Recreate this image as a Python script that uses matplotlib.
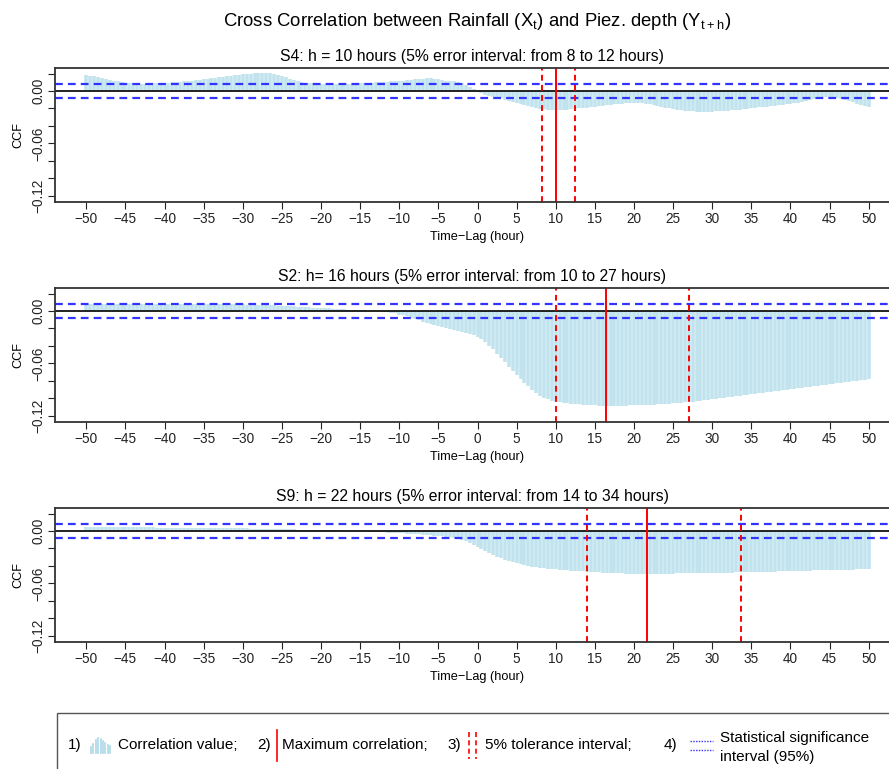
"""
Cross correlation between rainfall and piezometric depth, three stations
"""
import numpy as np
import matplotlib.pyplot as plt
from matplotlib.lines import Line2D
from matplotlib.patches import Rectangle

plt.rcParams['font.family'] = ['Liberation Sans', 'DejaVu Sans']

# lag axis (hours), half-hour steps
lags = np.arange(-50, 50.5, 0.5)

# CCF values, in units of 1e-3
s4_ccf = [
    18, 17.6, 17, 16, 15, 14, 13, 12, 11, 10.2,
    9.5, 9.1, 8.8, 8.6, 8.5, 8.5, 8.6, 8.7, 8.9, 9.0,
    9.2, 9.5, 9.8, 10.1, 10.5, 11, 11.5, 12, 12.5, 13,
    13.5, 14, 14.5, 15.2, 16, 16.5, 17, 17.5, 18, 18.5,
    19, 19.5, 20, 20.3, 20.5, 20.6, 20.5, 20.1, 19.5, 18.4,
    17, 15.5, 14, 12.5, 11, 10.2, 9.5, 9.1, 8.8, 8.4,
    8, 7.7, 7.5, 7.5, 7.5, 7.7, 8, 8.2, 8.5, 8.6,
    8.8, 9, 9.2, 9.5, 9.8, 10.1, 10.5, 10.8, 11, 11.2,
    11.5, 12, 12.5, 13, 13.5, 13.9, 14.2, 14.4, 14.5, 14.2,
    13.5, 12.8, 12, 11.5, 11, 10, 9, 7, 5, 2,
    -1, -2.5, -4, -5.3, -6.5, -7.5, -8.5, -9.8, -11, -12.3,
    -13.5, -14.8, -16, -17.3, -18.5, -19.6, -20.5, -21, -21.5, -21.7,
    -21.8, -21.8, -21.7, -21.4, -21, -20.5, -20, -19.5, -19, -18.5,
    -18, -17.5, -17, -16.4, -15.8, -15.4, -15, -14.5, -14, -13.7,
    -13.5, -13.6, -13.8, -14.3, -15, -16, -17, -18, -19, -19.8,
    -20.5, -21.3, -22, -22.5, -23, -23.3, -23.6, -23.7, -23.8, -23.7,
    -23.6, -23.4, -23.2, -22.9, -22.6, -22.2, -21.8, -21.3, -20.8, -20.2,
    -19.6, -19.1, -18.6, -18.2, -17.8, -17.4, -17, -16.5, -16, -15.4,
    -14.8, -14, -13.2, -12.4, -11.5, -10.5, -9.5, -8.5, -7.5, -6.9,
    -6.5, -6.8, -7.5, -8.7, -10, -11.5, -13, -14.5, -16, -17.4,
    -18.7,
]

s2_ccf = [
    8.5, 8.5, 8.4, 8.4, 8.4, 8.3, 8.3, 8.3, 8.2, 8.2,
    8.2, 8.2, 8.1, 8.1, 8.1, 8.1, 8.0, 8.0, 8.0, 8.0,
    8.0, 8.0, 7.9, 7.9, 7.9, 7.9, 7.8, 7.8, 7.8, 7.8,
    7.8, 7.7, 7.7, 7.7, 7.6, 7.6, 7.6, 7.5, 7.5, 7.5,
    7.5, 7.4, 7.3, 7.2, 7.1, 7.0, 6.8, 6.6, 6.4, 6.2,
    6.0, 5.8, 5.5, 5.2, 5.0, 4.7, 4.5, 4.2, 4.0, 3.7,
    3.5, 3.2, 3.0, 2.7, 2.5, 2.2, 2.0, 1.7, 1.5, 1.2,
    1.0, 0.7, 0.5, 0.2, 0.0, -0.5, -1.0, -1.5, -2.0, -2.8,
    -4.0, -5.0, -6.2, -7.5, -9.0, -10.5, -12.0, -13.5, -15.0, -16.3,
    -17.5, -18.6, -19.7, -20.8, -21.9, -23.0, -24.1, -25.2, -26.4, -27.8,
    -29.5, -32.5, -36, -40, -44, -49, -54, -58.8, -63.5, -68.3,
    -73, -77.5, -82, -86, -90, -93.8, -97, -99.3, -101, -102.4,
    -103.5, -104.3, -105, -105.5, -106, -106.4, -106.8, -107.1, -107.4, -107.6,
    -107.8, -108.1, -108.4, -108.6, -108.5, -108.4, -108.3, -108.2, -108.1, -108.0,
    -107.9, -107.8, -107.6, -107.4, -107.2, -106.9, -106.7, -106.4, -106.1, -105.8,
    -105.5, -105.2, -104.9, -104.5, -104.2, -103.7, -103.2, -102.6, -102.0, -101.4,
    -100.8, -100.3, -99.7, -99.1, -98.6, -98.0, -97.4, -96.9, -96.3, -95.7,
    -95.1, -94.6, -94.0, -93.4, -92.8, -92.3, -91.7, -91.1, -90.5, -90.0,
    -89.4, -88.8, -88.2, -87.7, -87.1, -86.5, -85.9, -85.3, -84.8, -84.2,
    -83.6, -83.1, -82.5, -81.9, -81.4, -80.8, -80.3, -79.7, -79.2, -78.6,
    -78.1,
]

s9_ccf = [
    4.5, 4.5, 4.5, 4.4, 4.4, 4.4, 4.3, 4.3, 4.3, 4.3,
    4.2, 4.2, 4.2, 4.2, 4.1, 4.1, 4.1, 4.1, 4.0, 4.0,
    4.0, 3.9, 3.9, 3.8, 3.8, 3.7, 3.7, 3.6, 3.6, 3.5,
    3.5, 3.4, 3.4, 3.3, 3.3, 3.2, 3.2, 3.1, 3.1, 3.0,
    3.0, 2.9, 2.8, 2.8, 2.7, 2.6, 2.5, 2.4, 2.4, 2.3,
    2.2, 2.1, 2.0, 1.9, 1.7, 1.6, 1.5, 1.4, 1.2, 1.1,
    1.0, 0.9, 0.8, 0.7, 0.6, 0.4, 0.3, 0.2, 0.1, -0.1,
    -0.3, -0.5, -0.7, -0.9, -1.1, -1.3, -1.5, -1.8, -2.0, -2.3,
    -2.5, -2.8, -3.0, -3.3, -3.5, -3.8, -4.2, -4.5, -4.8, -5.2,
    -5.5, -6.1, -6.8, -7.4, -8.0, -9.0, -10.0, -11.7, -13.5, -15.7,
    -18.0, -20.2, -22.5, -25.0, -27.4, -29.3, -31.0, -32.6, -34.0, -35.4,
    -36.7, -37.9, -39.0, -39.8, -40.6, -41.3, -42.0, -42.5, -43.0, -43.4,
    -43.8, -44.2, -44.5, -44.9, -45.2, -45.5, -45.9, -46.2, -46.5, -46.8,
    -47.0, -47.3, -47.5, -47.7, -47.9, -48.1, -48.3, -48.4, -48.6, -48.7,
    -48.8, -48.9, -48.9, -49.0, -49.0, -49.0, -48.9, -48.9, -48.8, -48.7,
    -48.6, -48.5, -48.4, -48.4, -48.3, -48.3, -48.2, -48.2, -48.1, -48.1,
    -48.0, -47.9, -47.8, -47.7, -47.6, -47.5, -47.4, -47.3, -47.2, -47.1,
    -47.0, -46.9, -46.8, -46.7, -46.5, -46.4, -46.3, -46.1, -46.0, -45.8,
    -45.7, -45.6, -45.5, -45.4, -45.3, -45.2, -45.0, -44.9, -44.8, -44.7,
    -44.6, -44.5, -44.4, -44.3, -44.3, -44.2, -44.1, -44.0, -44.0, -43.9,
    -43.8,
]

titles = [
    'S4: h = 10 hours (5% error interval: from 8 to 12 hours)',
    'S2: h= 16 hours (5% error interval: from 10 to 27 hours)',
    'S9: h = 22 hours (5% error interval: from 14 to 34 hours)',
]
max_lag = [10.0, 16.4, 21.7]
tol_low = [8.3, 10.0, 14.0]
tol_high = [12.4, 27.05, 33.7]
sig_level = 0.0075

series = [s4_ccf, s2_ccf, s9_ccf]

W, H = 889, 769
fig = plt.figure(figsize=(W / 100, H / 100), dpi=100)

fig.text(477 / W, 1 - 21 / H,
         r'Cross Correlation between Rainfall (X$_\mathregular{t}$) and Piez. depth (Y$_\mathregular{t+h}$)',
         ha='center', va='center', fontsize=13.3)

tops = [68, 288, 508]
ax_left, ax_right = 55, 900
ax_h = 134

for i, top in enumerate(tops):
    ax = fig.add_axes([ax_left / W, 1 - (top + ax_h) / H,
                       (ax_right - ax_left) / W, ax_h / H])
    vals = np.array(series[i]) / 1000.0
    ax.vlines(lags, 0, vals, color='#c0e3ee', lw=2.55)
    ax.axhline(0, color='#111111', lw=1.3)
    ax.axhline(sig_level, color='#3333ff', lw=1.6, ls=(0, (3.5, 2.3)))
    ax.axhline(-sig_level, color='#3333ff', lw=1.6, ls=(0, (3.5, 2.3)))
    ax.axvline(max_lag[i], color='red', lw=1.4)
    ax.axvline(tol_low[i], color='red', lw=1.4, ls=(0, (3, 2.2)))
    ax.axvline(tol_high[i], color='red', lw=1.4, ls=(0, (3, 2.2)))

    ax.set_xlim(-54, 54)
    ax.set_ylim(-0.1269, 0.0263)
    ax.set_xticks(np.arange(-50, 51, 5))
    ax.set_xticklabels([str(v).replace('-', '\u2212') for v in range(-50, 51, 5)])
    ax.set_yticks([0.02, 0.0, -0.02, -0.04, -0.06, -0.08, -0.10, -0.12])
    ax.set_yticklabels(['', '0.00', '', '', '\u22120.06', '', '', '\u22120.12'],
                       rotation=90, va='center')
    ax.tick_params(axis='both', direction='out', length=5, width=0.8,
                   labelsize=9.8, colors='#222222')
    ax.tick_params(axis='x', pad=2)
    ax.tick_params(axis='y', pad=2)
    for side in ['left', 'top', 'bottom', 'right']:
        ax.spines[side].set_color('#333333')
        ax.spines[side].set_linewidth(1.3)
    ax.set_title(titles[i], fontsize=11.3, x=0.494, pad=5)
    ax.set_xlabel('Time\u2212Lag (hour)', fontsize=9.2, labelpad=4)
    ax.set_ylabel('CCF', fontsize=9.2, labelpad=5)

# legend box at the bottom
fig.add_artist(Rectangle((57 / W, -0.05), 0.98, 0.05 + (H - 713) / H,
                         transform=fig.transFigure, fill=False,
                         edgecolor='#555555', lw=1.0))

def fx(px):
    return px / W

def fy(py):
    return 1 - py / H

leg_y = 745
fs = 11
fig.text(fx(68), fy(leg_y), '1)', fontsize=fs, va='center')
for k, h in enumerate([6, 9, 13, 15, 14, 12, 10, 8, 7]):
    x = 91 + k * 2.4
    fig.add_artist(Line2D([fx(x), fx(x)], [fy(753), fy(753 - h)],
                          transform=fig.transFigure, color='#add8e6', lw=1.2))
fig.text(fx(118), fy(leg_y), 'Correlation value;', fontsize=fs, va='center')

fig.text(fx(257), fy(leg_y), '2)', fontsize=fs, va='center')
fig.add_artist(Line2D([fx(277), fx(277)], [fy(730), fy(761)],
                      transform=fig.transFigure, color='red', lw=1.2))
fig.text(fx(282), fy(leg_y), 'Maximum correlation;', fontsize=fs, va='center')

fig.text(fx(447), fy(leg_y), '3)', fontsize=fs, va='center')
for x in [469, 476]:
    fig.add_artist(Line2D([fx(x), fx(x)], [fy(732), fy(759)],
                          transform=fig.transFigure, color='red', lw=1.2,
                          ls=(0, (3, 2))))
fig.text(fx(485), fy(leg_y), '5% tolerance interval;', fontsize=fs, va='center')

fig.text(fx(664), fy(leg_y), '4)', fontsize=fs, va='center')
for y in [741, 750]:
    fig.add_artist(Line2D([fx(690), fx(713)], [fy(y), fy(y)],
                          transform=fig.transFigure, color='#3333ff', lw=1.0,
                          ls=(0, (1, 1))))
fig.text(fx(720), fy(738), 'Statistical significance', fontsize=fs, va='center')
fig.text(fx(720), fy(757), 'interval (95%)', fontsize=fs, va='center')

fig.savefig('out.png', dpi=100)
plt.close(fig)
